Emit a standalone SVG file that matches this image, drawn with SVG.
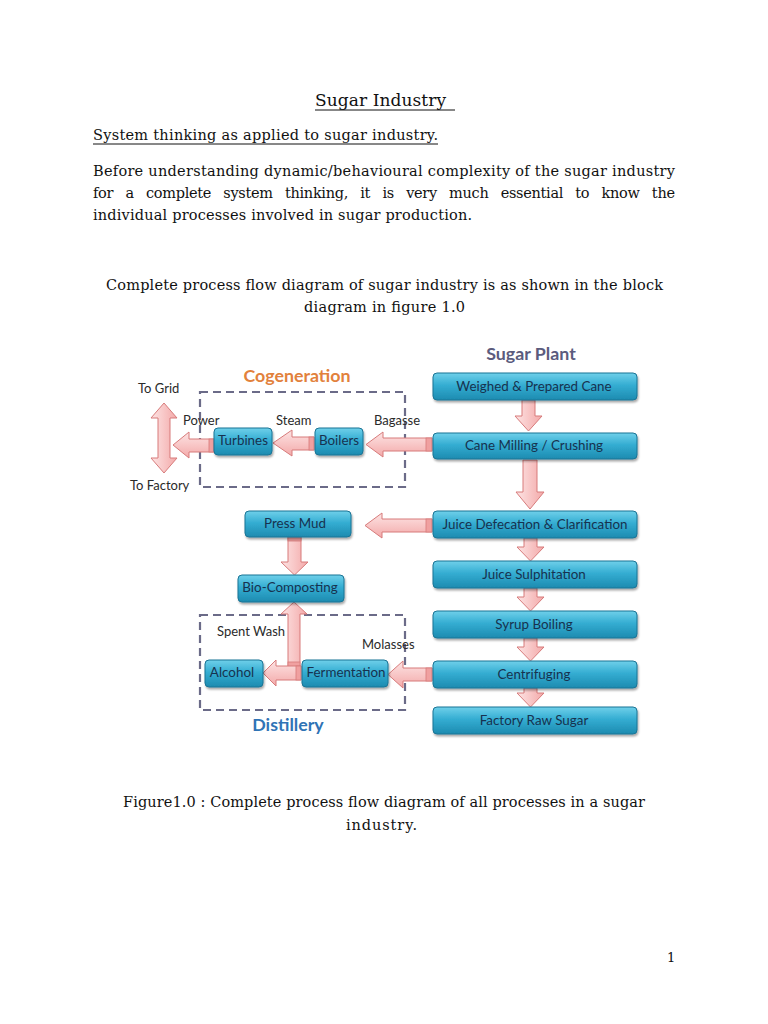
<svg xmlns="http://www.w3.org/2000/svg" width="768" height="1024" viewBox="0 0 768 1024">
<defs>
<linearGradient id="boxg" x1="0" y1="0" x2="0" y2="1">
<stop offset="0" stop-color="#6fd0ea"/>
<stop offset="0.45" stop-color="#34add2"/>
<stop offset="1" stop-color="#1d8bb0"/>
</linearGradient>
<linearGradient id="arrh" x1="0" y1="0" x2="0" y2="1">
<stop offset="0" stop-color="#fde4e4"/>
<stop offset="1" stop-color="#f3a9a9"/>
</linearGradient>
<linearGradient id="arrv" x1="0" y1="0" x2="1" y2="0">
<stop offset="0" stop-color="#fde4e4"/>
<stop offset="1" stop-color="#f3a9a9"/>
</linearGradient>
<filter id="sh" x="-10%" y="-20%" width="120%" height="150%">
<feGaussianBlur in="SourceAlpha" stdDeviation="1.2"/>
<feOffset dx="1" dy="2"/>
<feComponentTransfer><feFuncA type="linear" slope="0.35"/></feComponentTransfer>
<feMerge><feMergeNode/><feMergeNode in="SourceGraphic"/></feMerge>
</filter>
</defs>
<style>
.doc{font-family:"DejaVu Serif","Liberation Serif",serif;font-size:14.5px;fill:#111}
.box{fill:url(#boxg);stroke:#1a7495;stroke-width:1;filter:url(#sh)}
.nt{font-family:Lato,"Open Sans",sans-serif;font-size:13.4px;fill:#17324f;text-anchor:middle}
.lbl{font-family:Lato,"Open Sans",sans-serif;font-size:13px;fill:#2a2a2a}
.hd{font-family:Lato,"Open Sans",sans-serif;font-size:17.8px;font-weight:bold;text-anchor:middle}
.ah{fill:url(#arrh);stroke:#d77b7b;stroke-width:1}
.av{fill:url(#arrv);stroke:#d77b7b;stroke-width:1}
.tail{fill:#f0a0a0;stroke:#d77b7b;stroke-width:0.8}
.dash{fill:none;stroke:#6b6b88;stroke-width:2.2;stroke-dasharray:8 5}
</style>
<rect width="768" height="1024" fill="#ffffff"/>

<g id="document-text">
<text class="doc" x="315" y="106" style="font-size:17px" textLength="131">Sugar Industry</text>
<line x1="315" y1="110" x2="455" y2="110" stroke="#111" stroke-width="1"/>
<text class="doc" x="93" y="140" textLength="345">System thinking as applied to sugar industry.</text>
<line x1="93" y1="144" x2="438" y2="144" stroke="#111" stroke-width="1"/>
<text class="doc" x="93" y="176" textLength="582">Before understanding dynamic/behavioural complexity of the sugar industry</text>
<text class="doc" x="93" y="198" textLength="582" word-spacing="8">for a complete system thinking, it is very much essential to know the</text>
<text class="doc" x="93" y="220" textLength="379">individual processes involved in sugar production.</text>
<text class="doc" x="106" y="290" textLength="557">Complete process flow diagram of sugar industry is as shown in the block</text>
<text class="doc" x="304" y="312" textLength="161">diagram in figure 1.0</text>
<text class="doc" x="123" y="807" textLength="522">Figure1.0 : Complete process flow diagram of all processes in a sugar</text>
<text class="doc" x="346" y="830" textLength="71">industry.</text>
<text class="doc" x="667" y="962" style="font-size:13px">1</text>
</g>

<g id="group-frames">
<rect id="cogeneration-frame" class="dash" x="200" y="392" width="205" height="95"/>
<rect id="distillery-frame" class="dash" x="200" y="615" width="205" height="95"/>
<text class="hd" x="531" y="360" fill="#5b5b7d">Sugar Plant</text>
<text class="hd" x="297" y="382" fill="#e2813c">Cogeneration</text>
<text class="hd" x="288" y="731" fill="#2f73b5">Distillery</text>
</g>

<g id="connectors">
<polygon class="av" points="522,400 535,400 535,416 542,416 528.5,431 515,416 522,416"/>
<polygon class="av" points="523,460 537,460 537,492 544,492 530,509 516,492 523,492"/>
<polygon class="av" points="524,538 537,538 537,547 544,547 530.5,561 517,547 524,547"/>
<polygon class="av" points="524,588 537,588 537,597 544,597 530.5,611 517,597 524,597"/>
<polygon class="av" points="524,638 537,638 537,647 544,647 530.5,661 517,647 524,647"/>
<polygon class="av" points="524,688 537,688 537,693 544,693 530.5,707 517,693 524,693"/>
<polygon class="ah" points="432,438 432,451 383,451 383,457 366,444.5 383,432 383,438"/>
<rect class="tail" x="426" y="438" width="6" height="13"/>
<polygon class="ah" points="314,437 314,450 292,450 292,456 273,443 292,430 292,437"/>
<rect class="tail" x="309" y="437" width="5" height="13"/>
<polygon class="ah" points="214,439 214,452 189,452 189,458 173,445 189,432 189,439"/>
<rect class="tail" x="209" y="439" width="5" height="13"/>
<polygon class="av" points="164,403 177,418 170,418 170,458 177,458 164,473 151,458 158,458 158,418 151,418"/>
<polygon class="ah" points="432,519 432,532 382,532 382,538 365,525.5 382,513 382,519"/>
<rect class="tail" x="426" y="519" width="6" height="13"/>
<polygon class="av" points="288,537 301,537 301,562 308,562 294.5,575 281,562 288,562"/>
<rect class="tail" x="288" y="537" width="13" height="4"/>
<polygon class="av" points="288,667 300,667 300,614 307,614 294,602 281,614 288,614"/>
<rect class="tail" x="288" y="662" width="12" height="5"/>
<polygon class="ah" points="301,666 301,680 276,680 276,686 263,673 276,660 276,666"/>
<rect class="tail" x="296" y="666" width="5" height="14"/>
<polygon class="ah" points="432,668 432,681 403,681 403,688 388,674.5 403,661 403,668"/>
<rect class="tail" x="426" y="668" width="6" height="13"/>
</g>

<g id="connector-labels">
<text class="lbl" x="138" y="393">To Grid</text>
<text class="lbl" x="130" y="490">To Factory</text>
<text class="lbl" x="183" y="425">Power</text>
<text class="lbl" x="276" y="425">Steam</text>
<text class="lbl" x="374" y="425">Bagasse</text>
<text class="lbl" x="217" y="636">Spent Wash</text>
<text class="lbl" x="362" y="649">Molasses</text>
</g>

<g id="node-weighed"><rect class="box" x="433" y="373" width="204" height="27" rx="4"/><text class="nt" x="534" y="391">Weighed &amp; Prepared Cane</text></g>
<g id="node-milling"><rect class="box" x="433" y="433" width="204" height="26" rx="4"/><text class="nt" x="534" y="450">Cane Milling / Crushing</text></g>
<g id="node-defecation"><rect class="box" x="433" y="511" width="204" height="27" rx="4"/><text class="nt" x="535" y="529">Juice Defecation &amp; Clarification</text></g>
<g id="node-sulphitation"><rect class="box" x="433" y="561" width="204" height="27" rx="4"/><text class="nt" x="534" y="579">Juice Sulphitation</text></g>
<g id="node-syrup"><rect class="box" x="433" y="611" width="204" height="27" rx="4"/><text class="nt" x="534" y="629">Syrup Boiling</text></g>
<g id="node-centrifuging"><rect class="box" x="433" y="661" width="204" height="27" rx="4"/><text class="nt" x="534" y="679">Centrifuging</text></g>
<g id="node-rawsugar"><rect class="box" x="433" y="707" width="204" height="27" rx="4"/><text class="nt" x="534" y="725">Factory Raw Sugar</text></g>
<g id="node-turbines"><rect class="box" x="214" y="428" width="58" height="27" rx="4"/><text class="nt" x="243" y="445">Turbines</text></g>
<g id="node-boilers"><rect class="box" x="315" y="428" width="48" height="27" rx="4"/><text class="nt" x="339" y="445">Boilers</text></g>
<g id="node-pressmud"><rect class="box" x="245" y="511" width="106" height="26" rx="4"/><text class="nt" x="295" y="528">Press Mud</text></g>
<g id="node-biocomposting"><rect class="box" x="238" y="575" width="106" height="27" rx="4"/><text class="nt" x="290" y="592">Bio-Composting</text></g>
<g id="node-alcohol"><rect class="box" x="205" y="660" width="58" height="27" rx="4"/><text class="nt" x="232" y="677">Alcohol</text></g>
<g id="node-fermentation"><rect class="box" x="302" y="660" width="86" height="27" rx="4"/><text class="nt" x="346" y="677">Fermentation</text></g>
</svg>
